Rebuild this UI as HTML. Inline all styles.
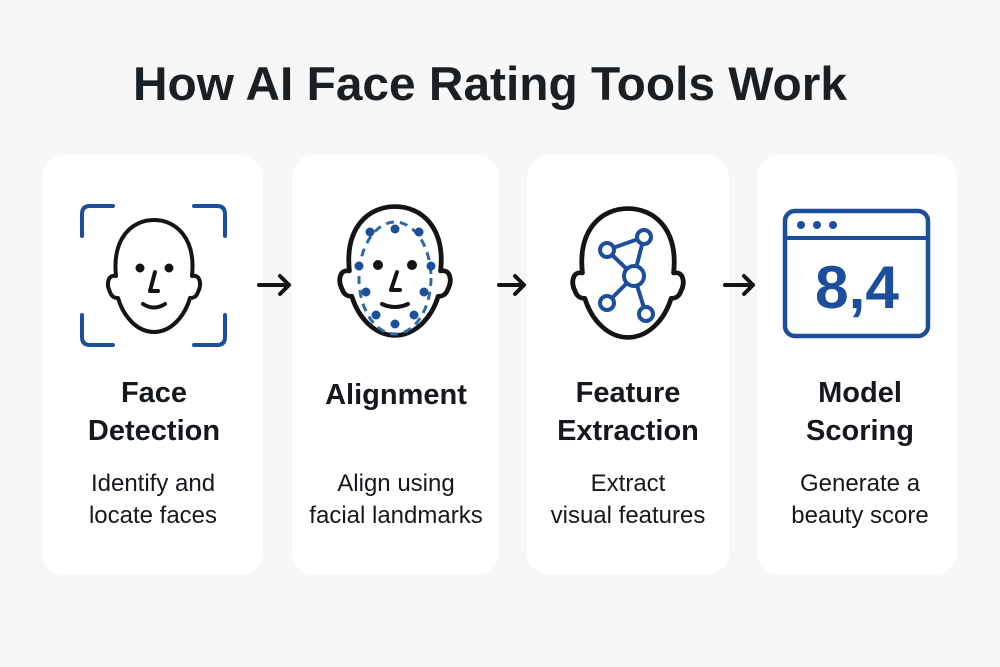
<!DOCTYPE html>
<html><head><meta charset="utf-8"><style>
html,body{margin:0;padding:0;background:#f7f7f7;}
svg{display:block;font-family:"Liberation Sans",sans-serif;}
.h{font-weight:bold;font-size:29px;fill:#15191d;text-anchor:middle;}
.d{font-size:24px;fill:#15191d;text-anchor:middle;}
.k{fill:none;stroke:#141414;stroke-width:4;stroke-linecap:round;stroke-linejoin:round;}
.b{fill:none;stroke:#1d4e9b;stroke-width:4;stroke-linecap:round;}
</style></head><body>
<svg width="1000" height="667" viewBox="0 0 1000 667">
<defs>
<path id="head" d="M -38,0 C -42,-38 -22,-56 0,-56 C 22,-56 42,-38 38,0 C 46,-2 48,8 44,16 C 42,22 38,22 36,22 C 30,42 16,56 0,56 C -16,56 -30,42 -36,22 C -38,22 -42,22 -44,16 C -48,8 -46,-2 -38,0 Z"/>
</defs>
<rect width="1000" height="667" fill="#f7f7f7"/>
<text x="490" y="100" text-anchor="middle" font-weight="bold" font-size="47" fill="#1a1f24" textLength="714" lengthAdjust="spacingAndGlyphs">How AI Face Rating Tools Work</text>

<rect x="42" y="155" width="221" height="420" rx="22" fill="#fff"/>
<rect x="292" y="155" width="207" height="420" rx="22" fill="#fff"/>
<rect x="527" y="155" width="202" height="420" rx="22" fill="#fff"/>
<rect x="757" y="155" width="200" height="420" rx="22" fill="#fff"/>

<g class="b" stroke-width="4.5">
<path d="M82,236 V214 Q82,206 90,206 H113"/>
<path d="M194,206 H217 Q225,206 225,214 V236"/>
<path d="M82,315 V337 Q82,345 90,345 H113"/>
<path d="M194,345 H217 Q225,345 225,337 V315"/>
</g>
<g transform="translate(154,276)"><use href="#head" class="k"/></g>
<circle cx="140" cy="268" r="4.5" fill="#141414"/><circle cx="169" cy="268" r="4.5" fill="#141414"/>
<path class="k" d="M155,272 L150,291 H158"/>
<path class="k" d="M143,304 Q154,311 165,304"/>

<g transform="translate(395,271) scale(1.2,1.15)"><use href="#head" class="k" stroke-width="3.4"/></g>
<ellipse cx="395" cy="278" rx="36" ry="56" fill="none" stroke="#2a6aa8" stroke-width="3" stroke-dasharray="8,6"/>
<g fill="#1d4e9b">
<circle cx="370" cy="232" r="4.5"/><circle cx="395" cy="229" r="4.5"/><circle cx="419" cy="232" r="4.5"/>
<circle cx="359" cy="266" r="4.5"/><circle cx="431" cy="266" r="4.5"/>
<circle cx="366" cy="292" r="4.5"/><circle cx="424" cy="292" r="4.5"/>
<circle cx="376" cy="315" r="4.5"/><circle cx="414" cy="315" r="4.5"/><circle cx="395" cy="324" r="4.5"/>
</g>
<circle cx="378" cy="265" r="5" fill="#141414"/><circle cx="412" cy="265" r="5" fill="#141414"/>
<path class="k" d="M397,272 L391,290 H400"/>
<path class="k" d="M382,304 Q395,310 408,304"/>

<g transform="translate(628,273) scale(1.2,1.15)"><use href="#head" class="k" stroke-width="3.4"/></g>
<g class="b" stroke-width="4">
<line x1="607" y1="250" x2="634" y2="276"/><line x1="607" y1="250" x2="644" y2="237"/>
<line x1="644" y1="237" x2="634" y2="276"/><line x1="634" y1="276" x2="607" y2="303"/>
<line x1="634" y1="276" x2="646" y2="314"/>
</g>
<g fill="#fff" stroke="#1d4e9b" stroke-width="4">
<circle cx="607" cy="250" r="7"/><circle cx="644" cy="237" r="7"/><circle cx="634" cy="276" r="10"/>
<circle cx="607" cy="303" r="7"/><circle cx="646" cy="314" r="7"/>
</g>

<rect x="785" y="211" width="143" height="125" rx="10" fill="none" stroke="#1d4e9b" stroke-width="4.5"/>
<line x1="785" y1="238" x2="928" y2="238" stroke="#1d4e9b" stroke-width="4"/>
<g fill="#1d4e9b"><circle cx="801" cy="225" r="4"/><circle cx="817" cy="225" r="4"/><circle cx="833" cy="225" r="4"/></g>
<text x="857" y="308" text-anchor="middle" font-size="60" font-weight="bold" fill="#1d4e9b" textLength="84" lengthAdjust="spacingAndGlyphs">8,4</text>

<g class="k" stroke-width="3.2">
<path d="M259,285 H289 M280,276 L289,285 L280,294"/>
<path d="M499,285 H524 M515,276 L524,285 L515,294"/>
<path d="M725,285 H753 M744,276 L753,285 L744,294"/>
</g>

<text class="h" x="154" y="402">Face</text><text class="h" x="154" y="440">Detection</text>
<text class="h" x="396" y="404">Alignment</text>
<text class="h" x="628" y="402">Feature</text><text class="h" x="628" y="440">Extraction</text>
<text class="h" x="860" y="402">Model</text><text class="h" x="860" y="440">Scoring</text>

<text class="d" x="153" y="491">Identify and</text><text class="d" x="153" y="523">locate faces</text>
<text class="d" x="396" y="491">Align using</text><text class="d" x="396" y="523">facial landmarks</text>
<text class="d" x="628" y="491">Extract</text><text class="d" x="628" y="523">visual features</text>
<text class="d" x="860" y="491">Generate a</text><text class="d" x="860" y="523">beauty score</text>
</svg>
</body></html>
